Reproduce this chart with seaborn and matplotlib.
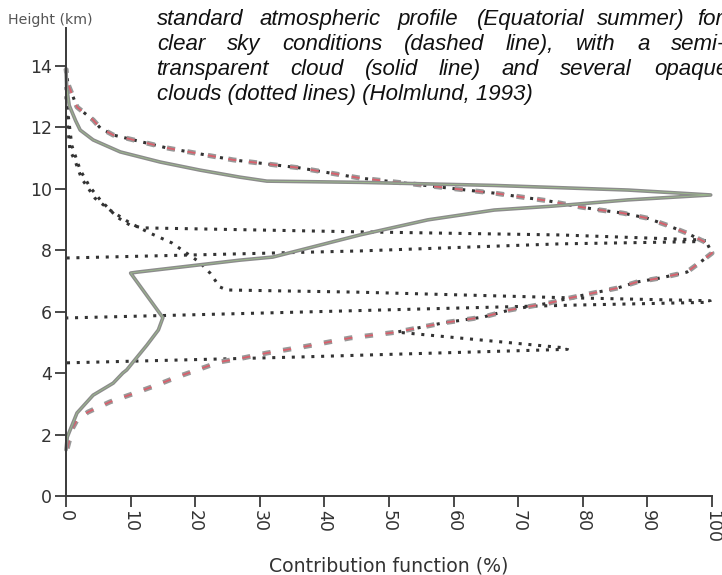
import matplotlib
matplotlib.use("Agg")
import matplotlib.pyplot as plt
import matplotlib.patheffects as pe
import seaborn as sns

# clear sky profile (dashed), traced from the bottom, round the peak and back up
clear_x = [0.2, 1.0, 1.7, 3.4, 6.8, 10.7, 14.1, 17.2, 20.3, 23.8, 27.4, 31.1, 36.7, 44.0,
           51.2, 58.4, 64.6, 68.7, 74.9, 78.0, 81.6, 85.3, 88.4, 92.0, 96.1, 98.6, 100.0,
           99.2, 96.1, 93.0, 89.9, 86.2, 82.7, 79.6, 74.6, 66.3, 61.1, 45.5, 36.2, 25.9,
           15.6, 7.3, 5.3, 4.2, 1.7, 1.1, 0.3, 0.0]
clear_y = [1.55, 2.2, 2.47, 2.73, 3.06, 3.35, 3.61, 3.87, 4.1, 4.36, 4.49, 4.65, 4.85, 5.14,
           5.33, 5.63, 5.82, 6.05, 6.28, 6.44, 6.6, 6.76, 6.96, 7.09, 7.28, 7.67, 7.9,
           8.23, 8.55, 8.81, 9.04, 9.2, 9.3, 9.4, 9.6, 9.85, 9.97, 10.34, 10.67, 10.93,
           11.32, 11.74, 11.97, 12.23, 12.65, 12.98, 13.4, 13.9]

# semi-transparent cloud (solid)
semi_x = [0.0, 0.2, 1.7, 4.2, 7.3, 8.8, 9.4, 10.4, 12.5, 14.3, 15.0, 10.0, 11.0, 26.9, 32.0,
          45.5, 56.0, 66.3, 75.5, 87.0, 99.8, 87.0, 66.3, 45.6, 31.1, 26.9, 20.7, 14.6,
          8.4, 4.2, 2.2, 1.5, 0.5, 0.1, 0.0]
semi_y = [1.5, 1.92, 2.7, 3.28, 3.67, 4.0, 4.1, 4.36, 4.9, 5.4, 5.8, 7.25, 7.28, 7.67, 7.77,
          8.49, 8.98, 9.3, 9.43, 9.63, 9.79, 9.95, 10.1, 10.2, 10.24, 10.37, 10.6, 10.86,
          11.19, 11.58, 11.9, 12.2, 12.7, 13.3, 13.9]

# opaque clouds (dotted)
cloud_high_x = [0.0, 0.3, 0.9, 2.2, 3.7, 5.3, 7.9, 9.9, 11.9, 45.5, 76.5, 98.1, 99.5,
                97.0, 76.5, 45.5, 0.0]
cloud_high_y = [13.3, 12.45, 11.4, 10.6, 10.05, 9.63, 9.07, 8.81, 8.72, 8.59, 8.49, 8.33,
                8.29, 8.27, 8.2, 7.97, 7.74]

cloud_mid_x = [0.0, 0.2, 0.6, 1.4, 2.4, 4.5, 6.8, 9.9, 13.0, 16.4, 19.2, 20.7, 22.3, 23.8,
               24.9, 45.0, 77.0, 99.7, 99.7, 79.0, 36.0, 0.0]
cloud_mid_y = [13.0, 12.2, 11.25, 10.9, 10.33, 9.68, 9.3, 8.88, 8.55, 8.23, 7.82, 7.6, 7.25,
               6.8, 6.7, 6.63, 6.45, 6.35, 6.3, 6.21, 5.98, 5.79]

# lowest cloud: follows the clear sky profile down to its top, then this spike
cloud_low_x = [77.6, 77.6, 45.7, 36.0, 0.0]
cloud_low_y = [4.81, 4.77, 4.58, 4.52, 4.33]
cloud_low_top = 5.33

x_ticks = list(range(0, 101, 10))
y_ticks = list(range(0, 15, 2))

W, H = 722, 575


def fy(py):
    return 1 - py / H


sns.set_theme(style="white")
plt.rcParams["font.family"] = ["DejaVu Sans"]

fig = plt.figure(figsize=(W / 100, H / 100), dpi=100)
ax = fig.add_axes([66 / W, fy(496), 646 / W, 468 / H])

dot_style = dict(color="#333333", lw=2.2, linestyle=(0, (1, 2.2)),
                 solid_capstyle="butt", dash_capstyle="butt")

# lowest cloud = clear sky above the cloud top + its spike
i0 = clear_y.index(cloud_low_top)
low_x = clear_x[i0:][::-1] + cloud_low_x
low_y = clear_y[i0:][::-1] + cloud_low_y

for cx, cy in [(cloud_high_x, cloud_high_y), (cloud_mid_x, cloud_mid_y), (low_x, low_y)]:
    sns.lineplot(x=cx, y=cy, sort=False, estimator=None, ax=ax, clip_on=False, **dot_style)

sns.lineplot(x=clear_x, y=clear_y, sort=False, estimator=None, ax=ax, clip_on=False,
             color="#d9606c", lw=1.3, linestyle=(0, (4.5, 7)), dash_capstyle="butt",
             path_effects=[pe.Stroke(linewidth=3.6, foreground="#989898"), pe.Normal()])

sns.lineplot(x=semi_x, y=semi_y, sort=False, estimator=None, ax=ax, clip_on=False,
             color="#9dbb8d", lw=0.6,
             path_effects=[pe.Stroke(linewidth=2.6, foreground="#8c8c8c"), pe.Normal()])

ax.set_xlim(0, 100)
ax.set_ylim(0, 15.22)
ax.set_xticks(x_ticks)
ax.set_yticks(y_ticks)
ax.set_xlabel("")
ax.set_ylabel("")
sns.despine(ax=ax)
for side in ["left", "bottom"]:
    ax.spines[side].set_color("#3a3a3a")
    ax.spines[side].set_linewidth(1.4)
ax.tick_params(axis="both", which="major", direction="out", length=8, width=1.3,
               color="#3a3a3a", labelcolor="#333333", labelsize=12.5, pad=2,
               left=True, bottom=True)
for lab in ax.get_xticklabels():
    lab.set_rotation(270)

fig.text(8 / W, fy(20), "Height (km)", ha="left", va="center", fontsize=10.2,
         color="#555555")
fig.text(389 / W, fy(566), "Contribution function (%)", ha="center", va="center",
         fontsize=13.6, color="#333333")

# caption, italic, justified lines placed word by word
cap = dict(family="Liberation Sans", style="italic", fontsize=16, color="#111111",
           va="baseline", ha="left")
for word, px in [("standard", 157), ("atmospheric", 259), ("profile", 398),
                 ("(Equatorial", 477), ("summer)", 597), ("for", 697)]:
    fig.text(px / W, fy(25), word, **cap)
for word, px in [("clear", 157), ("sky", 227), ("conditions", 282), ("(dashed", 404),
                 ("line),", 506), ("with", 576), ("a", 637), ("semi-", 671)]:
    fig.text(px / W, fy(50), word, **cap)
for word, px in [("transparent", 157), ("cloud", 290), ("(solid", 365), ("line)", 439),
                 ("and", 502), ("several", 560), ("opaque", 654)]:
    fig.text(px / W, fy(75), word, **cap)
fig.text(157 / W, fy(100), "clouds (dotted lines) (Holmlund, 1993)", **cap)

fig.savefig("out.png", dpi=100)
